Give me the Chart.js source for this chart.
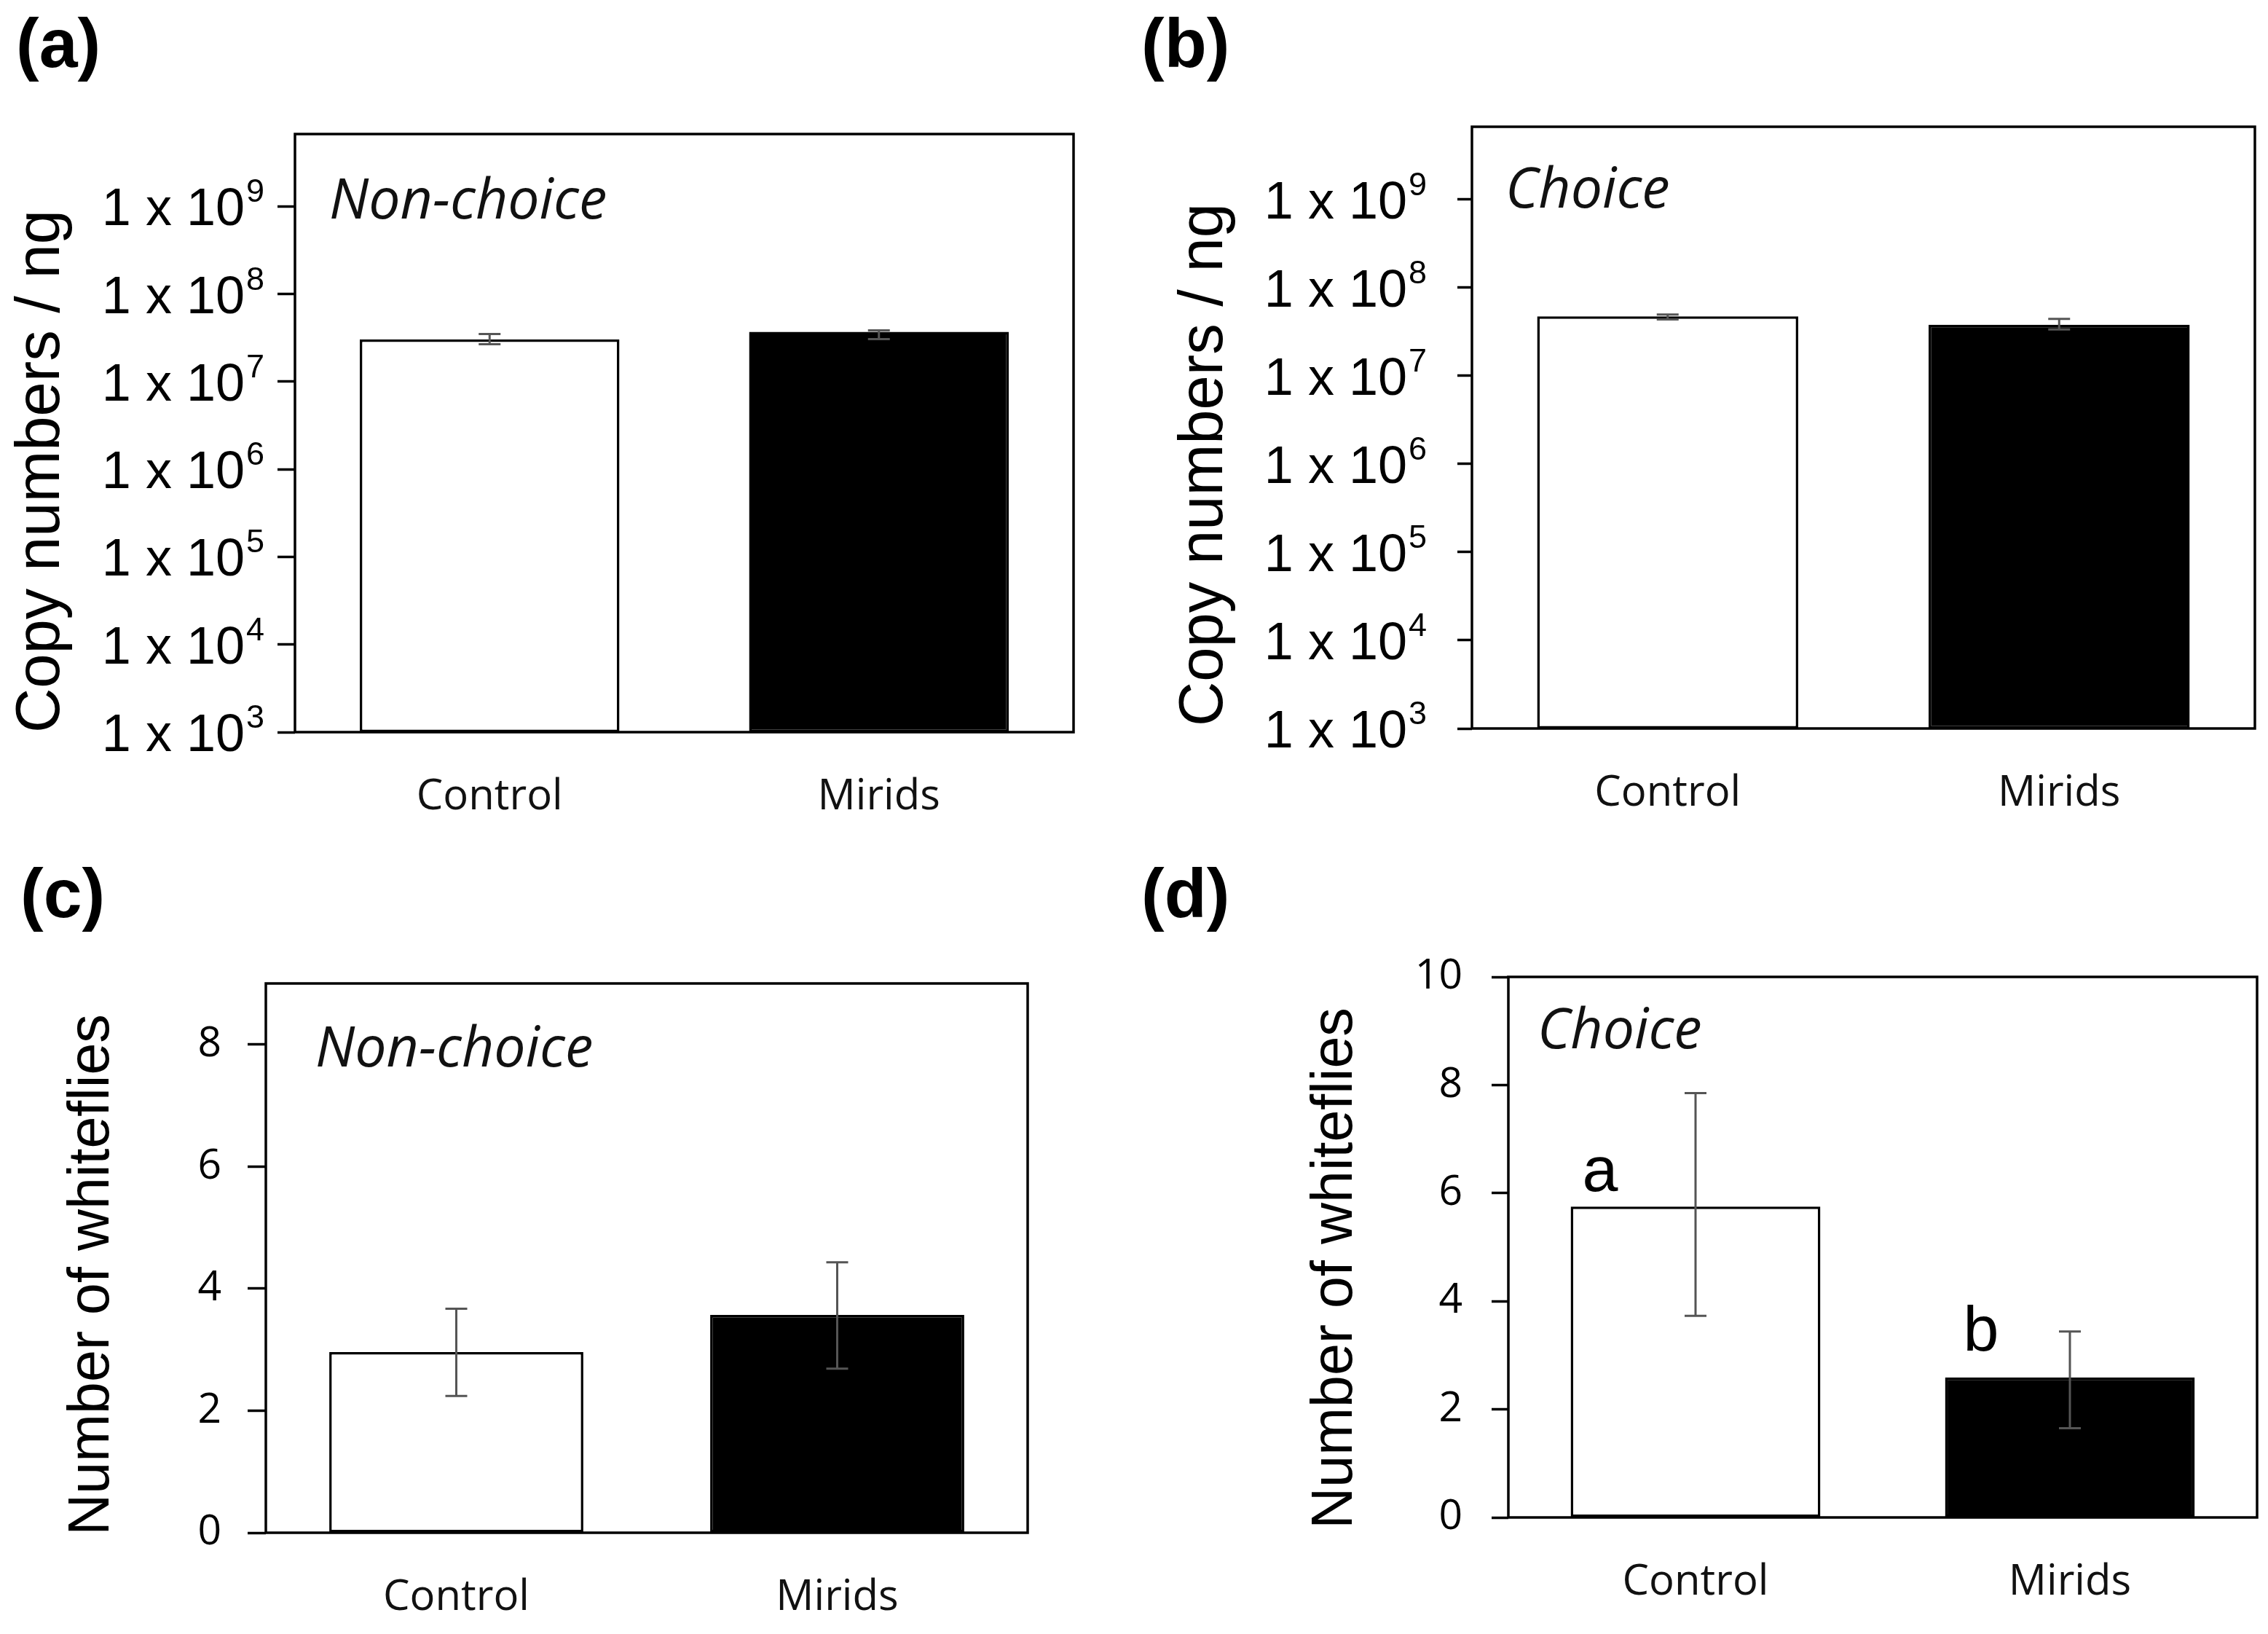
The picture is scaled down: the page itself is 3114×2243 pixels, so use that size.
<!DOCTYPE html>
<html>
<head>
<meta charset="utf-8">
<title>Begomovirus copy numbers and whitefly choice</title>
<script src="https://cdn.jsdelivr.net/npm/chart.js"></script>
<style>
  html, body { margin: 0; padding: 0; background: #fff; }
  body { width: 3114px; height: 2243px; position: relative; overflow: hidden; }
  canvas.panel { position: absolute; }
</style>
</head>
<body>
<canvas id="panelA" class="panel" style="left:0px;top:0px" width="1557" height="1121"></canvas>
<canvas id="panelB" class="panel" style="left:1557px;top:0px" width="1557" height="1121"></canvas>
<canvas id="panelC" class="panel" style="left:0px;top:1121px" width="1557" height="1122"></canvas>
<canvas id="panelD" class="panel" style="left:1557px;top:1121px" width="1557" height="1122"></canvas>
<script>
const categories = ["Control", "Mirids"];

// (a), (b): copy numbers / ng (log axis)
const copyNonChoice = [3.03e7, 3.71e7];
const copyNonChoiceErrUp = [0.47e7, 0.14e7];
const copyNonChoiceErrDown = [0.36e7, 0.65e7];
const copyChoice = [4.74e7, 3.81e7];
const copyChoiceErrUp = [0.22e7, 0.61e7];
const copyChoiceErrDown = [0.38e7, 0.44e7];
const copyTickExponents = [3, 4, 5, 6, 7, 8, 9];

// (c), (d): number of whiteflies
const fliesNonChoice = [2.96, 3.57];
const fliesNonChoiceErrUp = [0.71, 0.86];
const fliesNonChoiceErrDown = [0.72, 0.88];
const fliesChoice = [5.75, 2.59];
const fliesChoiceErrUp = [2.10, 0.85];
const fliesChoiceErrDown = [2.02, 0.94];
const fliesTicksNonChoice = [0, 2, 4, 6, 8];
const fliesTicksChoice = [0, 2, 4, 6, 8, 10];
const choiceLetters = ["a", "b"];

const SANS = "'Liberation Sans', Arial, sans-serif";
const UI = "'Open Sans', 'Noto Sans', sans-serif";

const panels = [
  {
    canvas: "panelA", tag: "(a)", cond: "Non-choice", yTitle: "Copy numbers / ng",
    log: true, values: copyNonChoice, errUp: copyNonChoiceErrUp, errDown: copyNonChoiceErrDown,
    ticks: copyTickExponents.map(e => Math.pow(10, e)), yMin: 1e3, yMax: 6.7e9,
    area: { l: 405, t: 184, r: 1474, b: 1005 },
    tickLen: 24, labelGap: 42,
    title: { x: 81, y: 647, size: 85 },
    tagPos: { x: 22, y: 92 }, condPos: { x: 452, y: 300 }
  },
  {
    canvas: "panelB", tag: "(b)", cond: "Choice", yTitle: "Copy numbers / ng",
    log: true, values: copyChoice, errUp: copyChoiceErrUp, errDown: copyChoiceErrDown,
    ticks: copyTickExponents.map(e => Math.pow(10, e)), yMin: 1e3, yMax: 6.7e9,
    area: { l: 464, t: 174, r: 1539, b: 1000 },
    tickLen: 20, labelGap: 62,
    title: { x: 121, y: 638, size: 85 },
    tagPos: { x: 10, y: 92 }, condPos: { x: 510, y: 285 }
  },
  {
    canvas: "panelC", tag: "(c)", cond: "Non-choice", yTitle: "Number of whiteflies",
    log: false, values: fliesNonChoice, errUp: fliesNonChoiceErrUp, errDown: fliesNonChoiceErrDown,
    ticks: fliesTicksNonChoice, yMin: 0, yMax: 9,
    area: { l: 365, t: 229, r: 1411, b: 983 },
    tickLen: 25, labelGap: 36,
    title: { x: 149, y: 629, size: 79 },
    tagPos: { x: 28, y: 138 }, condPos: { x: 433, y: 343 }
  },
  {
    canvas: "panelD", tag: "(d)", cond: "Choice", yTitle: "Number of whiteflies",
    log: false, values: fliesChoice, errUp: fliesChoiceErrUp, errDown: fliesChoiceErrDown,
    ticks: fliesTicksChoice, yMin: 0, yMax: 10,
    area: { l: 514, t: 220, r: 1542, b: 962 },
    tickLen: 23, labelGap: 40,
    title: { x: 299, y: 620, size: 79 },
    tagPos: { x: 10, y: 138 }, condPos: { x: 554, y: 318 },
    letters: choiceLetters, letterOffsets: [{ dx: -131, dy: -21 }, { dx: -122, dy: -37 }]
  }
];

// frame, error bars and all the extra text of one panel
function decorPlugin(p) {
  return {
    id: "decor",
    afterDatasetsDraw(chart) {
      const ctx = chart.ctx;
      const area = chart.chartArea;
      const y = chart.scales.y;
      const bars = chart.getDatasetMeta(0).data;

      ctx.save();
      ctx.strokeStyle = "#000";
      ctx.lineWidth = 3.5;
      ctx.strokeRect(area.left, area.top, area.right - area.left, area.bottom - area.top);

      // error bars
      ctx.strokeStyle = "#555";
      ctx.lineWidth = 3;
      bars.forEach((bar, i) => {
        const v = p.values[i];
        const yHi = y.getPixelForValue(v + p.errUp[i]);
        const yLo = y.getPixelForValue(v - p.errDown[i]);
        ctx.beginPath();
        ctx.moveTo(bar.x, yHi); ctx.lineTo(bar.x, yLo);
        ctx.moveTo(bar.x - 15, yHi); ctx.lineTo(bar.x + 15, yHi);
        ctx.moveTo(bar.x - 15, yLo); ctx.lineTo(bar.x + 15, yLo);
        ctx.stroke();
      });

      ctx.fillStyle = "#000";

      // "1 x 10^n" labels on the log axes
      if (p.log) {
        const right = area.left - p.labelGap;
        y.ticks.forEach(t => {
          const ty = y.getPixelForValue(t.value);
          const exp = String(Math.round(Math.log10(t.value)));
          ctx.font = "45px " + SANS;
          const supW = ctx.measureText(exp).width;
          ctx.textAlign = "left";
          ctx.textBaseline = "alphabetic";
          ctx.fillText(exp, right - supW, ty - 6);
          ctx.font = "72px " + SANS;
          ctx.textAlign = "right";
          ctx.fillText("1 x 10", right - supW - 2, ty + 26);
        });
      }

      // rotated y title
      ctx.save();
      ctx.translate(p.title.x, p.title.y);
      ctx.rotate(-Math.PI / 2);
      ctx.font = p.title.size + "px " + SANS;
      ctx.textAlign = "center";
      ctx.textBaseline = "alphabetic";
      ctx.fillText(p.yTitle, 0, 0);
      ctx.restore();

      ctx.textAlign = "left";
      ctx.textBaseline = "alphabetic";
      ctx.font = "bold 95px " + SANS;
      ctx.fillText(p.tag, p.tagPos.x, p.tagPos.y);

      ctx.font = "italic 77px " + UI;
      ctx.fillStyle = "#111";
      ctx.fillText(p.cond, p.condPos.x, p.condPos.y);

      if (p.letters) {
        ctx.fillStyle = "#000";
        ctx.font = "88px " + SANS;
        ctx.textAlign = "center";
        bars.forEach((bar, i) => {
          const off = p.letterOffsets[i];
          ctx.fillText(p.letters[i], bar.x + off.dx, bar.y + off.dy);
        });
      }
      ctx.restore();
    }
  };
}

function buildPanel(p) {
  const canvas = document.getElementById(p.canvas);
  const W = canvas.width, H = canvas.height;

  return new Chart(canvas, {
    type: "bar",
    data: {
      labels: categories,
      datasets: [{
        data: p.values,
        backgroundColor: ["#ffffff", "#000000"],
        borderColor: "#000000",
        borderWidth: 3.5,
        borderSkipped: false,
        barPercentage: 0.667,
        categoryPercentage: 1.0
      }]
    },
    options: {
      responsive: false,
      animation: false,
      devicePixelRatio: 1,
      layout: { padding: { left: 0, top: p.area.t, right: W - p.area.r, bottom: 0 } },
      plugins: {
        legend: { display: false },
        tooltip: { enabled: false }
      },
      scales: {
        x: {
          grid: { display: false, drawTicks: false },
          border: { display: false },
          ticks: { color: "#111", padding: 55, font: { family: UI, size: 58 } },
          afterFit: s => { s.height = H - p.area.b; }
        },
        y: {
          type: p.log ? "logarithmic" : "linear",
          min: p.yMin,
          max: p.yMax,
          afterBuildTicks: s => { s.ticks = p.ticks.map(v => ({ value: v })); },
          grid: {
            drawOnChartArea: false,
            drawTicks: true,
            tickLength: p.tickLen,
            tickWidth: 3.5,
            tickColor: "#000"
          },
          border: { display: false },
          ticks: {
            display: !p.log,
            padding: p.labelGap,
            color: "#000",
            font: { family: UI, size: 57 }
          },
          afterFit: s => { s.width = p.area.l; }
        }
      }
    },
    plugins: [decorPlugin(p)]
  });
}

panels.forEach(buildPanel);
</script>
</body>
</html>
